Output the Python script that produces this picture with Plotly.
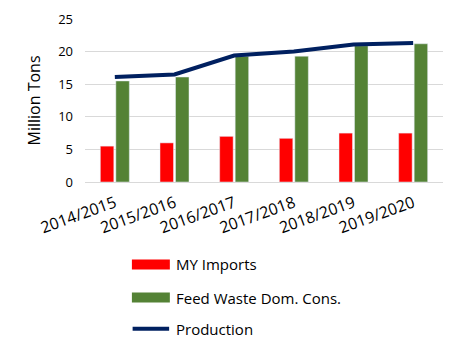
import plotly.graph_objects as go

years = ["2014/2015", "2015/2016", "2016/2017", "2017/2018", "2018/2019", "2019/2020"]
my_imports = [5.5, 6.0, 7.0, 6.7, 7.5, 7.5]
feed_waste = [15.5, 16.1, 19.3, 19.3, 20.9, 21.2]
production = [16.1, 16.5, 19.4, 20.0, 21.1, 21.3]

names = ["MY Imports", "Feed Waste Dom. Cons.", "Production"]
colors = ["#FF0000", "#548235", "#002060"]

fig = go.Figure()
fig.add_trace(go.Bar(x=years, y=my_imports, name=names[0], marker_color=colors[0], showlegend=False))
fig.add_trace(go.Bar(x=years, y=feed_waste, name=names[1], marker_color=colors[1], showlegend=False))
fig.add_trace(go.Scatter(x=years, y=production, name=names[2], mode="lines",
                         line=dict(color=colors[2], width=4), showlegend=False))

font_family = "Open Sans, Noto Sans, sans-serif"

# manual legend
leg_y = [-0.506, -0.709, -0.90]
for i, (n, c) in enumerate(zip(names, colors)):
    if i < 2:
        fig.add_shape(type="rect", xref="paper", yref="paper",
                      x0=0.131, x1=0.237, y0=leg_y[i] - 0.031, y1=leg_y[i] + 0.031,
                      fillcolor=c, line=dict(width=0))
    else:
        fig.add_shape(type="line", xref="paper", yref="paper",
                      x0=0.133, x1=0.235, y0=leg_y[i], y1=leg_y[i],
                      line=dict(color=c, width=4))
    fig.add_annotation(text=n, xref="paper", yref="paper", x=0.249, y=leg_y[i],
                       xanchor="left", yanchor="middle", showarrow=False,
                       font=dict(size=15, color="#000000", family=font_family))

fig.update_layout(
    width=452, height=354,
    margin=dict(l=85, r=9, t=19, b=172),
    paper_bgcolor="white", plot_bgcolor="white",
    barmode="group", bargap=0.48, bargroupgap=0.13,
    font=dict(family=font_family, color="#000000"),
    showlegend=False,
)
fig.update_yaxes(range=[0, 25], dtick=5, showgrid=True, gridcolor="#D9D9D9", gridwidth=1,
                 zeroline=True, zerolinecolor="#D9D9D9", zerolinewidth=1,
                 showline=False, ticks="", tickfont=dict(size=13, color="#000000"),
                 ticklabelstandoff=11,
                 title=dict(text="Million Tons", font=dict(size=16, color="#000000"), standoff=13))
fig.update_xaxes(showgrid=False, showline=False, ticks="", tickangle=-20,
                 ticklabelstandoff=8,
                 tickfont=dict(size=16, color="#000000"))

fig.write_html("out.html")
